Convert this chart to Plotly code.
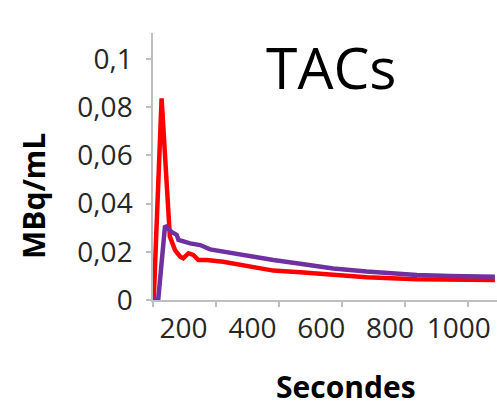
import plotly.graph_objects as go

# ---- data ----
red_t = [113, 136, 160, 175, 190, 199, 214, 228, 243, 267, 315, 364, 461, 539, 635, 732, 878, 974, 1105]
red_v = [0.0, 0.0837, 0.0263, 0.0207, 0.0180, 0.0173, 0.0194, 0.0187, 0.0166, 0.0166, 0.0159, 0.0145,
         0.0122, 0.0115, 0.0104, 0.0094, 0.0086, 0.0083, 0.0083]

purple_t = [113, 126, 146, 165, 180, 185, 219, 248, 277, 315, 364, 461, 539, 635, 732, 878, 974, 1105]
purple_v = [0.0, 0.0, 0.0308, 0.0283, 0.0270, 0.0249, 0.0235, 0.0228, 0.0210, 0.0200, 0.0187, 0.0166,
            0.0150, 0.0131, 0.0118, 0.0104, 0.0100, 0.0097]

x_tickvals = [200, 400, 600, 800, 1000]
x_ticktext = ["200", "400", "600", "800", "1000"]
y_tickvals = [0, 0.02, 0.04, 0.06, 0.08, 0.1]
y_ticktext = ["0", "0,02", "0,04", "0,06", "0,08", "0,1"]

title_text = "TACs"
y_title = "MBq/mL"
x_title = "Secondes"

AXIS_GRAY = "#BFBFBF"
FONT = "Open Sans"

fig = go.Figure()
fig.add_trace(go.Scatter(x=red_t, y=red_v, mode="lines",
                         line=dict(color="#FF0000", width=4.5), showlegend=False))
fig.add_trace(go.Scatter(x=purple_t, y=purple_v, mode="lines",
                         line=dict(color="#7030A0", width=4.5), showlegend=False))

fig.update_layout(
    width=497, height=411,
    margin=dict(l=153, r=0, t=33, b=111),
    paper_bgcolor="white", plot_bgcolor="white",
    font=dict(family=FONT, color="#262626"),
    xaxis=dict(range=[111, 1111], tickmode="array", tickvals=x_tickvals, ticktext=x_ticktext,
               showgrid=False, zeroline=False, showline=True, linecolor=AXIS_GRAY, linewidth=1.5,
               ticks="", tickfont=dict(size=28, family=FONT, color="#262626"),
               ticklabelstandoff=3,
               minor=dict(ticks="outside", ticklen=5, tickcolor=AXIS_GRAY, tickwidth=1.5,
                          tick0=294, dtick=183, showgrid=False)),
    yaxis=dict(range=[0, 0.1108], tickmode="array", tickvals=y_tickvals, ticktext=y_ticktext,
               showgrid=False, zeroline=False, showline=True, linecolor=AXIS_GRAY, linewidth=1.5,
               ticks="outside", ticklen=5, tickcolor=AXIS_GRAY, tickwidth=1.5,
               tickfont=dict(size=28, family=FONT, color="#262626"),
               ticklabelstandoff=8),
    annotations=[
        dict(text=title_text, x=0.520, y=0.871, xref="paper", yref="paper",
             xanchor="center", yanchor="middle", showarrow=False,
             font=dict(size=57, family=FONT, color="black")),
        dict(text=y_title, x=-0.349, y=0.3895, xref="paper", yref="paper",
             xanchor="center", yanchor="middle", textangle=-90, showarrow=False,
             font=dict(size=30, family=FONT, color="black", weight="bold")),
        dict(text=x_title, x=0.561, y=-0.410, xref="paper", yref="paper",
             xanchor="center", yanchor="bottom", showarrow=False,
             font=dict(size=30, family=FONT, color="black", weight="bold")),
    ],
)

fig.write_html("out.html", config={"displayModeBar": False},
               post_script="document.body.style.margin='0';document.body.style.overflow='hidden';")
